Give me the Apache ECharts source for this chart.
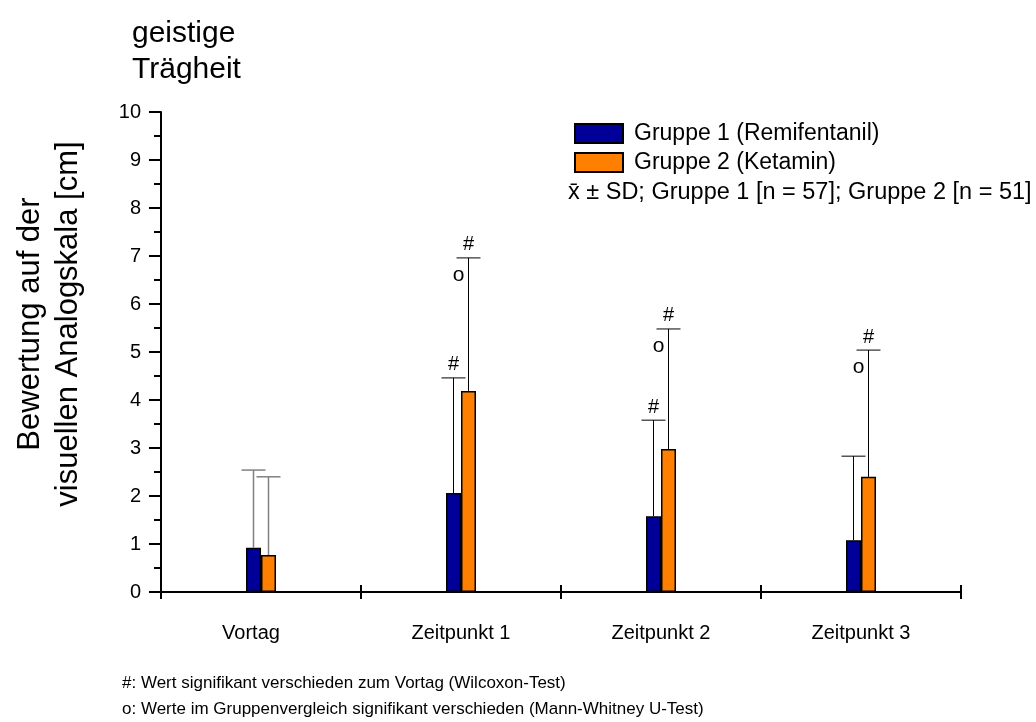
<!DOCTYPE html>
<html>
<head>
<meta charset="utf-8">
<script src="https://cdn.jsdelivr.net/npm/echarts@6/dist/echarts.min.js"></script>
<style>
  html, body { margin: 0; padding: 0; background: #fff; }
  #chart { width: 1036px; height: 722px; }
</style>
</head>
<body>
<div id="chart"></div>
<script>
// Zeitpunkte der Messung
const categories = ['Vortag', 'Zeitpunkt 1', 'Zeitpunkt 2', 'Zeitpunkt 3'];
// Mittelwerte (VAS in cm)
const meanG1 = [0.92, 2.06, 1.58, 1.08];
const meanG2 = [0.77, 4.19, 2.98, 2.40];
// Standardabweichungen
const sdG1 = [1.62, 2.40, 2.00, 1.75];
const sdG2 = [1.63, 2.77, 2.50, 2.64];
// Signifikanzmarker
const hashG1 = [false, true, true, false];   // '#' gegen Vortag, Gruppe 1
const hashG2 = [false, true, true, true];    // '#' gegen Vortag, Gruppe 2
const circleG = [false, true, true, true];   // 'o' Gruppenvergleich
const yTicks = [0, 1, 2, 3, 4, 5, 6, 7, 8, 9, 10];
const seriesNames = ['Gruppe 1 (Remifentanil)', 'Gruppe 2 (Ketamin)'];

const FONT = 'Liberation Sans, Arial, sans-serif';
const BAR_W = 15;
const COLORS = ['#000099', '#FF8000'];

function errorSeries(gi, means, sds, hashes, circles) {
  const offset = gi === 0 ? -BAR_W / 2 : BAR_W / 2;
  return {
    type: 'custom',
    z: 5,
    silent: true,
    data: means.map((m, i) => [i, m, m + sds[i]]),
    renderItem: function (params, api) {
      const i = api.value(0);
      const base = api.coord([i, api.value(1)]);
      const top = api.coord([i, api.value(2)]);
      const x = base[0] + offset;
      const col = i === 0 ? '#808080' : '#000';
      const lw = i === 0 ? 1.5 : 1;
      const children = [
        { type: 'line', shape: { x1: x, y1: base[1], x2: x, y2: top[1] },
          style: { stroke: col, lineWidth: lw } },
        { type: 'line', shape: { x1: x - 12, y1: top[1], x2: x + 12, y2: top[1] },
          style: { stroke: col, lineWidth: lw } }
      ];
      if (hashes[i]) {
        children.push({ type: 'text', x: x, y: top[1] - 3,
          style: { text: '#', font: '20px ' + FONT, fill: '#000',
                   align: 'center', verticalAlign: 'bottom' } });
      }
      if (circles && circles[i]) {
        children.push({ type: 'text', x: x - 10, y: top[1] + 17,
          style: { text: 'o', font: '21px ' + FONT, fill: '#000',
                   align: 'center', verticalAlign: 'middle' } });
      }
      return { type: 'group', children: children };
    }
  };
}

const chart = echarts.init(document.getElementById('chart'), null, { renderer: 'canvas' });

chart.setOption({
  animation: false,
  backgroundColor: '#fff',
  textStyle: { fontFamily: FONT, color: '#000' },
  grid: { left: 161, top: 112, width: 800, height: 480, containLabel: false },
  legend: {
    orient: 'vertical',
    left: 574,
    top: 122,
    itemWidth: 48,
    itemHeight: 19,
    itemGap: 6,
    padding: 0,
    icon: 'rect',
    data: seriesNames,
    textStyle: { fontSize: 23, lineHeight: 19, color: '#000', fontFamily: FONT, padding: [0, 0, 0, 6] }
  },
  xAxis: [
    {
      type: 'category',
      data: categories,
      boundaryGap: true,
      axisLine: { lineStyle: { color: '#000', width: 2 } },
      axisTick: { show: true, interval: 0, length: 7, lineStyle: { color: '#000', width: 2 } },
      axisLabel: {
        fontSize: 20, color: '#000', margin: 31, fontFamily: FONT, interval: 0,
        formatter: function (v, i) { return i === 0 ? '{v|' + v + '}' : v; },
        rich: { v: { fontSize: 20, fontFamily: FONT, color: '#000', padding: [0, 20, 0, 0] } }
      },
      splitLine: { show: false }
    },
    {
      type: 'category',
      data: categories,
      position: 'bottom',
      boundaryGap: true,
      axisLine: { show: false },
      axisTick: { show: true, inside: true, interval: 0, length: 7, lineStyle: { color: '#000', width: 2 } },
      axisLabel: { show: false },
      splitLine: { show: false }
    }
  ],
  yAxis: {
    type: 'value',
    min: yTicks[0],
    max: yTicks[yTicks.length - 1],
    interval: 1,
    axisLine: { show: true, lineStyle: { color: '#000', width: 2 } },
    axisTick: { show: true, length: 12, lineStyle: { color: '#000', width: 2 } },
    minorTick: { show: true, splitNumber: 2, length: 7, lineStyle: { color: '#000', width: 2 } },
    axisLabel: { fontSize: 20, color: '#000', margin: 20, fontFamily: FONT },
    splitLine: { show: false }
  },
  series: [
    {
      name: seriesNames[0],
      type: 'bar',
      data: meanG1,
      barWidth: BAR_W,
      barGap: '0%',
      itemStyle: { color: COLORS[0], borderColor: '#000', borderWidth: 1.5 }
    },
    {
      name: seriesNames[1],
      type: 'bar',
      data: meanG2,
      barWidth: BAR_W,
      barGap: '0%',
      itemStyle: { color: COLORS[1], borderColor: '#000', borderWidth: 1.5 }
    },
    errorSeries(0, meanG1, sdG1, hashG1, null),
    errorSeries(1, meanG2, sdG2, hashG2, circleG)
  ],
  graphic: [
    { type: 'text', left: 132, top: 16,
      style: { text: 'geistige\nTrägheit', font: '30px ' + FONT, fill: '#000', lineHeight: 36 } },
    { type: 'text', x: 30, y: 324, rotation: Math.PI / 2,
      style: { text: 'Bewertung auf der', font: '31px ' + FONT, fill: '#000',
               align: 'center', verticalAlign: 'middle' } },
    { type: 'text', x: 68, y: 324, rotation: Math.PI / 2,
      style: { text: 'visuellen Analogskala [cm]', font: '31px ' + FONT, fill: '#000',
               align: 'center', verticalAlign: 'middle' } },
    { type: 'text', left: 568, top: 181,
      style: { text: 'x\u0304 ± SD; Gruppe 1 [n = 57]; Gruppe 2 [n = 51]', font: '23.5px ' + FONT, fill: '#000' } },
    { type: 'text', left: 122, top: 675,
      style: { text: '#: Wert signifikant verschieden zum Vortag (Wilcoxon-Test)', font: '17px ' + FONT, fill: '#000' } },
    { type: 'text', left: 122, top: 701,
      style: { text: 'o: Werte im Gruppenvergleich signifikant verschieden (Mann-Whitney U-Test)', font: '17px ' + FONT, fill: '#000' } }
  ]
});
</script>
</body>
</html>
